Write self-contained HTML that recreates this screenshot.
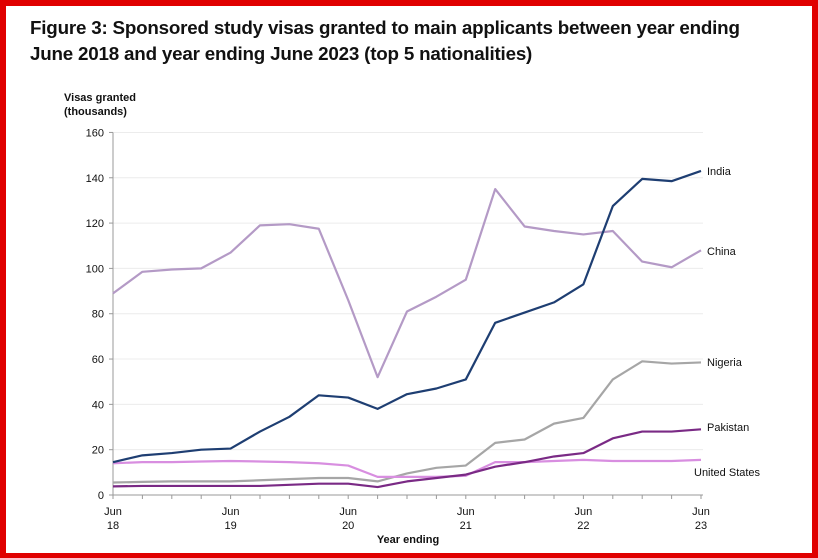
<!DOCTYPE html>
<html><head><meta charset="utf-8"><style>
body{margin:0;background:#fff}
#wrap{position:relative;width:818px;height:558px;box-sizing:border-box;border:6px solid #e00000;border-bottom-width:5px;background:#fff;font-family:"Liberation Sans",sans-serif}
h1{position:absolute;left:24px;top:9px;margin:0;font-size:18.8px;line-height:26px;font-weight:bold;color:#111;letter-spacing:-0.2px}
svg{position:absolute;left:-6px;top:-6px}
</style></head><body><div id="wrap">
<h1>Figure 3: Sponsored study visas granted to main applicants between year ending<br>June 2018 and year ending June 2023 (top 5 nationalities)</h1>
<svg id="s" width="818" height="558" font-family="Liberation Sans, sans-serif" font-size="11" fill="#111"></svg>
</div>
<script>
const s=document.getElementById('s');let h='';
const X0=113,DX=29.4,Y0=495,K=2.266;
const x=i=>X0+i*DX,y=v=>Y0-v*K;
for(let v=0;v<=160;v+=20){h+=`<line x1="${X0}" x2="703" y1="${y(v)}" y2="${y(v)}" stroke="#ececec"/>`;
h+=`<line x1="${X0-4}" x2="${X0}" y1="${y(v)}" y2="${y(v)}" stroke="#999"/>`;
h+=`<text x="${X0-9}" y="${y(v)+4}" text-anchor="end">${v}</text>`;}
h+=`<line x1="${X0}" x2="${X0}" y1="${y(160)}" y2="${Y0}" stroke="#999"/><line x1="${X0}" x2="703" y1="${Y0}" y2="${Y0}" stroke="#999"/>`;
for(let i=0;i<=20;i++)h+=`<line x1="${x(i)}" x2="${x(i)}" y1="${Y0}" y2="${Y0+4}" stroke="#999"/>`;
for(let k=0;k<=5;k++){h+=`<text x="${x(k*4)}" y="515" text-anchor="middle">Jun</text><text x="${x(k*4)}" y="529" text-anchor="middle">${18+k}</text>`;}
h+=`<text x="408" y="543" text-anchor="middle" font-weight="bold">Year ending</text>`;
h+=`<text x="64" y="101" font-weight="bold">Visas granted</text><text x="64" y="115" font-weight="bold">(thousands)</text>`;
const S=[
['#b49ac6',[89,98.5,99.5,100,107,119,119.5,117.5,86,52,81,87.5,95,135,118.5,116.5,115,116.5,103,100.5,108],'China'],
['#a6a6a6',[5.5,5.8,6,6,6,6.5,7,7.5,7.5,6,9.5,12,13,23,24.5,31.5,34,51,59,58,58.5],'Nigeria'],
['#d88ee0',[14,14.5,14.5,14.8,15,14.8,14.5,14,13,8,8,8,8.5,14.5,14.5,15,15.5,15,15,15,15.5],'United States'],
['#7a2a85',[3.8,4,4,4,4,4,4.5,5,5,3.5,6,7.5,9,12.5,14.5,17,18.5,25,28,28,29],'Pakistan'],
['#1e3e72',[14.5,17.5,18.5,20,20.5,28,34.5,44,43,38,44.5,47,51,76,80.5,85,93,127.5,139.5,138.5,143],'India']];
const L={China:251,Nigeria:362,'United States':472,Pakistan:427,India:171};
for(const [c,d,n] of S){h+=`<polyline fill="none" stroke="${c}" stroke-width="2.2" stroke-linejoin="round" points="${d.map((v,i)=>x(i)+','+y(v)).join(' ')}"/>`;
h+=`<text x="${n=='United States'?694:707}" y="${L[n]+4}">${n}</text>`;}
s.innerHTML=h;
</script></body></html>
